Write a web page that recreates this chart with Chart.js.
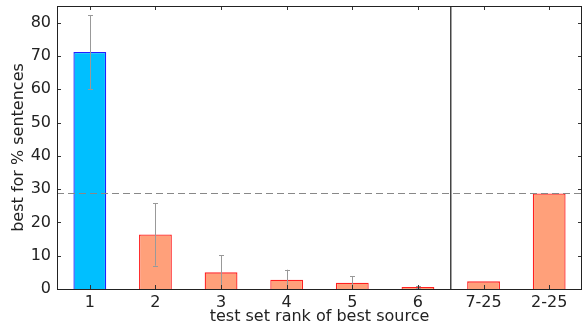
<!DOCTYPE html>
<html>
<head>
<meta charset="utf-8">
<script src="https://cdn.jsdelivr.net/npm/chart.js@4/dist/chart.umd.min.js"></script>
<style>
html,body{margin:0;padding:0;background:#fff;}
#wrap{width:582px;height:326px;}
</style>
</head>
<body>
<div id="wrap"><canvas id="c" width="582" height="326"></canvas></div>
<script>
const categories = ['1','2','3','4','5','6','7-25','2-25'];
const values = [71.2, 16.4, 5.0, 2.8, 1.9, 0.6, 2.3, 28.7];
const errLow = [60.1, 7.0, 0, 0, 0, 0.3, null, null];
const errHigh = [82.3, 25.8, 10.1, 5.8, 3.8, 0.9, null, null];
const baselineValue = 28.7;
const yTicks = [0,10,20,30,40,50,60,70,80];
const yMax = 85;
const separatorAfter = 5; // line between '6' and '7-25'

const fills = values.map((v,i)=> i===0 ? '#00BFFF' : '#FFA07A');
const edges = values.map((v,i)=> i===0 ? '#2020FF' : '#FF2020');

const FONT = 'DejaVu Sans';

const decor = {
  id: 'decor',
  afterDatasetsDraw(chart) {
    const {ctx, chartArea: a, scales: {x, y}} = chart;
    ctx.save();
    // dashed baseline
    ctx.strokeStyle = '#888888';
    ctx.lineWidth = 1;
    ctx.setLineDash([7,4]);
    const yb = Math.round(y.getPixelForValue(baselineValue)) + 0.5;
    ctx.beginPath(); ctx.moveTo(a.left, yb); ctx.lineTo(a.right, yb); ctx.stroke();
    ctx.setLineDash([]);
    // error bars
    ctx.strokeStyle = '#999999';
    ctx.lineWidth = 1;
    for (let i = 0; i < values.length; i++) {
      if (errLow[i] === null) continue;
      const px = Math.round(x.getPixelForValue(i)) + 0.5;
      const y1 = y.getPixelForValue(errLow[i]);
      const y2 = y.getPixelForValue(errHigh[i]);
      ctx.beginPath();
      ctx.moveTo(px, y1); ctx.lineTo(px, y2);
      ctx.moveTo(px-2.5, Math.round(y1)+0.5); ctx.lineTo(px+2.5, Math.round(y1)+0.5);
      ctx.moveTo(px-2.5, Math.round(y2)+0.5); ctx.lineTo(px+2.5, Math.round(y2)+0.5);
      ctx.stroke();
    }
    // separator
    ctx.strokeStyle = '#444444';
    ctx.lineWidth = 1.5;
    const sx = (x.getPixelForValue(separatorAfter) + x.getPixelForValue(separatorAfter+1)) / 2;
    ctx.beginPath(); ctx.moveTo(sx, a.top); ctx.lineTo(sx, a.bottom); ctx.stroke();
    // ticks (inward)
    ctx.strokeStyle = '#333333';
    ctx.lineWidth = 1;
    ctx.beginPath();
    for (let i = 0; i < categories.length; i++) {
      const px = Math.round(x.getPixelForValue(i)) + 0.5;
      ctx.moveTo(px, a.bottom); ctx.lineTo(px, a.bottom - 4);
      ctx.moveTo(px, a.top); ctx.lineTo(px, a.top + 4);
    }
    for (const t of yTicks) {
      const py = Math.round(y.getPixelForValue(t)) + 0.5;
      ctx.moveTo(a.left, py); ctx.lineTo(a.left + 4, py);
      ctx.moveTo(a.right, py); ctx.lineTo(a.right - 4, py);
    }
    ctx.stroke();
    // frame
    ctx.strokeStyle = '#222222';
    ctx.lineWidth = 1;
    ctx.strokeRect(Math.round(a.left)+0.5, Math.round(a.top)+0.5, Math.round(a.right-a.left)-1, Math.round(a.bottom-a.top));
    ctx.restore();
  }
};

new Chart(document.getElementById('c'), {
  type: 'bar',
  data: {
    labels: categories,
    datasets: [{
      data: values,
      backgroundColor: fills,
      borderColor: edges,
      borderWidth: 1.3,
      categoryPercentage: 1.0,
      barPercentage: 0.5
    }]
  },
  options: {
    responsive: false,
    animation: false,
    events: [],
    layout: { padding: { left: 0, right: 0, top: 6, bottom: 0 } },
    plugins: { legend: { display: false }, tooltip: { enabled: false } },
    scales: {
      x: {
        grid: { display: false, drawTicks: false },
        border: { display: false },
        ticks: { color: '#222', font: { family: FONT, size: 16 }, padding: 4, maxRotation: 0 },
        title: { display: true, text: 'test set rank of best source', color: '#222', font: { family: FONT, size: 16 }, padding: { top: 0, bottom: 0 } },
        afterFit(s) { s.height = 37; s.paddingLeft = 0; s.paddingRight = 0; }
      },
      y: {
        min: 0, max: yMax,
        afterBuildTicks(s) { s.ticks = yTicks.map(v => ({ value: v })); },
        grid: { display: false, drawTicks: false },
        border: { display: false },
        ticks: { color: '#222', font: { family: FONT, size: 16 }, padding: 6 },
        title: { display: true, text: 'best for % sentences', color: '#222', font: { family: FONT, size: 16 }, padding: { top: 9, bottom: 0 } },
        afterFit(s) { s.width = 57; s.paddingTop = 0; s.paddingBottom = 0; }
      }
    }
  },
  plugins: [decor]
});
</script>
</body>
</html>
